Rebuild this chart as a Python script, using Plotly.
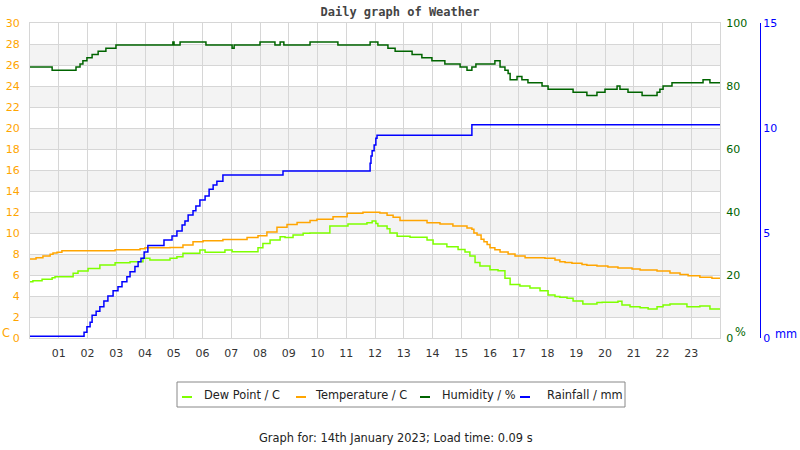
import plotly.graph_objects as go

# ---------------- data ----------------
hour_ticks = list(range(0, 25))
hour_labels = [""] + [f"{h:02d}" for h in range(1, 24)] + [""]

temp_hours = [0.00, 0.21, 0.45, 0.70, 0.80, 0.94, 1.11, 2.96, 3.83, 4.00, 4.87, 5.32, 5.67,
              6.02, 6.71, 7.55, 7.93, 8.24, 8.59, 8.94, 9.29, 9.74, 9.98, 10.54, 11.03,
              11.58, 12.17, 12.42, 12.63, 12.87, 13.81, 14.26, 14.71, 15.20, 15.37, 15.44,
              15.55, 15.69, 15.79, 15.90, 16.00, 16.17, 16.35, 16.63, 16.87, 17.22, 17.91,
              18.26, 18.43, 18.61, 18.85, 19.20, 19.37, 19.72, 20.10, 20.45, 20.94, 21.22,
              21.81, 22.26, 22.61, 22.89, 23.30, 23.72, 24.00]
temp_c = [7.52, 7.65, 7.80, 7.97, 8.10, 8.16, 8.32, 8.41, 8.50, 8.60, 8.63, 8.86, 9.17,
          9.27, 9.37, 9.56, 9.74, 10.10, 10.54, 10.80, 11.00, 11.20, 11.30, 11.55, 11.87,
          11.97, 11.90, 11.70, 11.50, 11.20, 10.98, 10.86, 10.67, 10.48, 10.35, 10.00,
          9.80, 9.40, 9.17, 8.90, 8.60, 8.40, 8.20, 8.00, 7.80, 7.65, 7.60,
          7.43, 7.27, 7.20, 7.11, 7.00, 6.92, 6.86, 6.76, 6.67, 6.57, 6.48,
          6.38, 6.19, 6.05, 5.94, 5.78, 5.68, 5.68]

dew_hours = [0.00, 0.10, 0.42, 0.77, 0.87, 1.50, 1.67, 2.02, 2.43, 2.96, 3.48, 3.93, 4.17,
             4.87, 5.11, 5.32, 5.91, 6.09, 6.78, 7.03, 7.93, 8.10, 8.35, 8.70, 8.87, 9.15,
             9.50, 9.74, 10.43, 11.06, 11.72, 11.90, 12.03, 12.10, 12.42, 12.52, 12.77,
             13.22, 13.81, 14.02, 14.50, 14.89, 15.13, 15.30, 15.48, 15.65, 16.00, 16.28,
             16.52, 16.70, 17.04, 17.39, 17.74, 18.02, 18.26, 18.43, 18.68, 18.89, 19.23,
             19.72, 19.90, 20.45, 20.59, 20.87, 21.22, 21.50, 21.81, 22.02, 22.26, 22.85,
             23.30, 23.65, 24.00]
dew_c = [5.36, 5.46, 5.59, 5.75, 5.84, 6.16, 6.38, 6.63, 6.95, 7.17, 7.27, 7.59, 7.43,
         7.59, 7.75, 8.06, 8.38, 8.16, 8.38, 8.22, 8.60, 9.00, 9.33, 9.65, 9.56, 9.80,
         9.97, 10.00, 10.67, 10.86, 10.98, 11.14, 10.90, 10.67, 10.40, 10.00, 9.70,
         9.60, 9.33, 8.95, 8.70, 8.44, 8.20, 7.80, 7.20, 6.86, 6.50, 6.40,
         5.70, 5.10, 4.95, 4.76, 4.50, 4.10, 3.95, 3.87, 3.78, 3.52, 3.24,
         3.37, 3.40, 3.50, 3.14, 2.98, 2.89, 2.76, 2.98, 3.14, 3.24, 2.98,
         3.05, 2.76, 2.76]

hum_hours = [0.00, 0.77, 1.60, 1.74, 1.84, 1.98, 2.16, 2.37, 2.64, 2.99, 4.97, 5.01, 5.22,
             6.12, 7.03, 7.10, 8.00, 8.52, 8.70, 8.83, 9.74, 10.71, 11.83, 12.10, 12.45,
             12.70, 13.29, 13.63, 13.98, 14.43, 14.96, 15.20, 15.37, 15.51, 15.76, 16.17,
             16.35, 16.52, 16.63, 16.70, 16.94, 17.11, 17.32, 17.81, 18.02, 18.89, 19.37,
             19.72, 20.00, 20.42, 20.52, 20.80, 21.29, 21.81, 21.91, 22.02, 22.33, 23.41,
             23.65, 24.00]
hum_pct = [86, 85, 86, 87, 88, 89, 90, 91, 92, 93, 94, 93, 94,
           93, 92, 93, 94, 93, 94, 93, 94, 93, 94, 93, 92,
           91, 90, 89, 88, 87, 86, 85, 86, 87, 87, 88,
           86, 85, 84, 82, 83, 82, 81, 80, 79, 78, 77,
           78, 79, 80, 79, 78, 77, 78, 79, 80, 81, 82,
           81, 81]

rain_hours = [0.00, 1.88, 1.98, 2.09, 2.16, 2.30, 2.43, 2.57, 2.71, 2.89, 3.06, 3.20, 3.37,
              3.48, 3.65, 3.76, 3.86, 3.97, 4.10, 4.66, 4.94, 5.11, 5.29, 5.39, 5.50, 5.67,
              5.77, 5.91, 6.09, 6.23, 6.37, 6.50, 6.71, 8.80, 11.83, 11.86, 11.90, 11.97,
              12.03, 12.07, 15.37, 24.00]
rain_mm = [0.08, 0.27, 0.54, 0.75, 1.08, 1.27, 1.49, 1.76, 2.00, 2.25, 2.44, 2.68, 2.92,
           3.16, 3.40, 3.63, 3.80, 4.10, 4.40, 4.67, 4.86, 5.10, 5.38, 5.57, 5.86, 6.06,
           6.29, 6.57, 6.76, 7.08, 7.29, 7.46, 7.76, 7.95, 8.32, 8.67, 8.92, 9.19,
           9.51, 9.65, 10.16, 10.16]

temp_ticks = list(range(0, 31, 2))
hum_ticks = [0, 20, 40, 60, 80, 100]
rain_ticks = [0, 5, 10, 15]

series_names = ["Dew Point / C", "Temperature / C", "Humidity / %", "Rainfall / mm"]
series_colors = ["#7fff00", "#ffa500", "#006400", "#0000ff"]

# ---------------- figure ----------------
W, H = 800, 450
L, R, T, B = 30, 40, 23, 112
plot_w = W - L - R          # paper width (730)
x_end = 720                 # right edge of the x domain in pixels
xdom_end = (x_end - L) / plot_w
plot_h = H - T - B
FS = 11.4                   # text size
TFS = 11                    # tick text size


def px_x(px):
    return (px - L) / plot_w


def px_y(py):
    return (H - B - py) / plot_h


fig = go.Figure()

xs = [dew_hours, temp_hours, hum_hours, rain_hours]
ys = [dew_c, temp_c, hum_pct, rain_mm]
axes = ["y", "y", "y2", "y3"]
for name, color, xv, yv, ax in zip(series_names, series_colors, xs, ys, axes):
    fig.add_trace(go.Scatter(x=xv, y=yv, name=name, mode="lines", showlegend=False,
                             line=dict(color=color, width=1.5, shape="hv"), yaxis=ax))

# alternating bands
shapes = []
for lo in range(2, 28, 4):
    shapes.append(dict(type="rect", xref="x", yref="y", x0=0, x1=24, y0=lo, y1=lo + 2,
                       fillcolor="#f3f3f3", line=dict(width=0), layer="below"))

# legend box drawn by hand (compact like the reference)
leg_box = (177, 382, 625, 407)
leg_sym_x = [(182, 192), (296, 306), (420, 430), (520, 530)]
leg_txt_x = [202, 313, 440, 545]
leg_y = 395
shapes.append(dict(type="rect", xref="paper", yref="paper",
                   x0=px_x(leg_box[0]), x1=px_x(leg_box[2]),
                   y0=px_y(leg_box[3]), y1=px_y(leg_box[1]),
                   line=dict(color="#888888", width=1), fillcolor="white"))
annotations = []
for (sx0, sx1), tx, name, color in zip(leg_sym_x, leg_txt_x, series_names, series_colors):
    shapes.append(dict(type="line", xref="paper", yref="paper",
                       x0=px_x(sx0), x1=px_x(sx1), y0=px_y(leg_y + 2), y1=px_y(leg_y + 2),
                       line=dict(color=color, width=2)))
    annotations.append(dict(text=name, x=px_x(tx), y=px_y(leg_y), xref="paper", yref="paper",
                            xanchor="left", yanchor="middle", showarrow=False,
                            font=dict(family="DejaVu Sans", size=FS, color="#222222")))

annotations += [
    dict(text="C", x=px_x(6), y=px_y(333), xref="paper", yref="paper", showarrow=False,
         xanchor="center", yanchor="middle",
         font=dict(family="DejaVu Sans", size=FS, color="#ffa500")),
    dict(text="%", x=px_x(740), y=px_y(332), xref="paper", yref="paper", showarrow=False,
         xanchor="center", yanchor="middle",
         font=dict(family="DejaVu Sans", size=FS, color="#006400")),
    dict(text="mm", x=px_x(786), y=px_y(334), xref="paper", yref="paper", showarrow=False,
         xanchor="center", yanchor="middle",
         font=dict(family="DejaVu Sans", size=FS, color="#0000ff")),
    dict(text="Graph for: 14th January 2023; Load time: 0.09 s", x=px_x(396), y=px_y(438),
         xref="paper", yref="paper", showarrow=False, xanchor="center", yanchor="middle",
         font=dict(family="DejaVu Sans", size=FS, color="#222222")),
]

grid = "#d6d6d6"
fig.update_layout(
    width=W, height=H,
    margin=dict(l=L, r=R, t=T, b=B),
    paper_bgcolor="white", plot_bgcolor="white",
    font=dict(family="DejaVu Sans", size=FS, color="#333333"),
    shapes=shapes,
    annotations=annotations,
    showlegend=False,
    title=dict(text="<b>Daily graph of Weather</b>", x=0.5, xref="container", xanchor="center",
               y=1 - 12 / H, yref="container", yanchor="middle",
               font=dict(family="DejaVu Sans Mono", size=12, color="#444444")),
    xaxis=dict(domain=[0, xdom_end], range=[0, 24], tickvals=hour_ticks, ticktext=hour_labels,
               showgrid=True, gridcolor=grid, gridwidth=1, zeroline=False, automargin=False,
               showline=True, linecolor=grid, mirror=True,
               ticks="outside", ticklen=5, tickcolor="rgba(0,0,0,0)",
               tickfont=dict(family="DejaVu Sans", size=TFS, color="#333333")),
    yaxis=dict(range=[0, 30], tickvals=temp_ticks, showgrid=True, gridcolor=grid, zeroline=False,
               showline=True, linecolor=grid, mirror=True, automargin=False,
               ticks="outside", ticklen=7, tickcolor="rgba(0,0,0,0)",
               tickfont=dict(family="DejaVu Sans", size=TFS, color="#ffa500")),
    yaxis2=dict(range=[0, 100], tickvals=hum_ticks, overlaying="y", side="right", anchor="x",
                showgrid=False, zeroline=False, showline=False, automargin=False,
                ticks="outside", ticklen=3, tickcolor="rgba(0,0,0,0)",
                tickfont=dict(family="DejaVu Sans", size=TFS, color="#006400")),
    yaxis3=dict(range=[0, 15], tickvals=rain_ticks, overlaying="y", side="right", anchor="free",
                position=1.0, showgrid=False, zeroline=False, showline=True, linecolor="#0000ff",
                linewidth=1, ticks="", automargin=False,
                tickfont=dict(family="DejaVu Sans", size=TFS, color="#0000ff")),
)

fig.write_html("out.html")
